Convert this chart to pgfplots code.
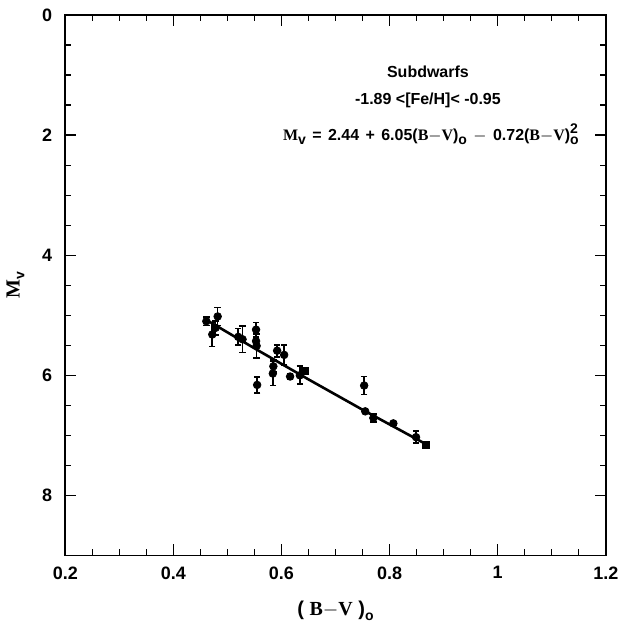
\documentclass[border=0pt]{standalone}
\usepackage{fontspec}
\setmainfont{Liberation Sans}
\newfontfamily\hersh{Liberation Serif}
\usepackage{pgfplots}
\pgfplotsset{compat=1.18}

% subdwarf sample: (B-V)_0, M_v, error in M_v
\pgfplotstableread{
bv     mv    emv
0.461  5.10  0.07
0.472  5.32  0.20
0.478  5.21  0.12
0.482  5.02  0.15
0.520  5.36  0.14
0.528  5.40  0.22
0.553  5.24  0.12
0.553  5.43  0.12
0.554  5.51  0.20
0.555  6.16  0.13
0.585  5.85  0.10
0.584  5.97  0.20
0.592  5.59  0.10
0.605  5.66  0.17
0.616  6.02  0.05
0.634  6.00  0.15
0.755  6.60  0.03
0.753  6.17  0.15
0.770  6.71  0.07
0.807  6.80  0.03
0.849  7.03  0.10
}\starsdata

\pgfplotstableread{
bv     mv    emv
0.644  5.93  0.05
0.867  7.16  0.03
}\squaresdata

\newcommand\sub[1]{\raisebox{-0.45ex}{\scriptsize #1}}
\newcommand\op[1]{\hspace{0.4em}#1\hspace{0.4em}}

\begin{document}
\begin{tikzpicture}
\begin{axis}[
    scale only axis,
    width=270.5pt, height=270.5pt,
    xmin=0.2, xmax=1.2,
    ymin=0, ymax=9,
    y dir=reverse,
    xtick={0.2,0.4,0.6,0.8,1,1.2},
    ytick={0,2,4,6,8},
    minor x tick num=3,
    minor y tick num=3,
    tick align=inside,
    major tick length=5.5pt,
    minor tick length=3pt,
    every tick/.style={black, line width=0.6pt},
    axis line style={line width=0.9pt},
    /pgf/number format/assume math mode=true,
    tick label style={font=\small\bfseries},
    xticklabel style={yshift=-2pt},
    yticklabel style={xshift=-3pt},
    xlabel={\bfseries ( {\hersh B$-$V} )\sub{o}},
    ylabel={\bfseries{\hersh M}\sub{v}},
    xlabel style={yshift=-4pt},
    ylabel style={yshift=2pt},
]
\addplot[only marks, mark=*, mark size=1.9pt, black,
    error bars/.cd, y dir=both, y explicit,
    error bar style={line width=0.8pt},
    error mark options={rotate=90, mark size=1.6pt, line width=0.9pt}]
    table[x=bv, y=mv, y error=emv] {\starsdata};
\addplot[only marks, mark=square*, mark size=1.8pt, black,
    error bars/.cd, y dir=both, y explicit,
    error bar style={line width=0.8pt},
    error mark options={rotate=90, mark size=1.6pt, line width=0.9pt}]
    table[x=bv, y=mv, y error=emv] {\squaresdata};
\addplot[black, line width=1.3pt, no marks] coordinates {
    (0.465, 5.098) (0.55, 5.550) (0.65, 6.068) (0.75, 6.573) (0.865, 7.135)
};
\end{axis}
\node[font=\footnotesize\bfseries] at ([xshift=181.5pt,yshift=-28.2pt]current axis.north west) {Subdwarfs};
\node[font=\footnotesize\bfseries] at ([xshift=181.5pt,yshift=-42.7pt]current axis.north west) {-1.89 \textless[Fe/H]\textless\ -0.95};
\node[font=\footnotesize\bfseries] at ([xshift=183pt,yshift=-59.6pt]current axis.north west)
    {{\hersh M}\sub{v}\op{=}2.44\op{+}6.05({\hersh B$-$V})\sub{o}\op{$-$}0.72({\hersh B$-$V})\rlap{\raisebox{0.9ex}{\scriptsize 2}}\sub{o}};
\path ([xshift=-32.5pt,yshift=-29.5pt]current axis.south west) ([xshift=10.5pt,yshift=7.5pt]current axis.north east);
\end{tikzpicture}
\end{document}
